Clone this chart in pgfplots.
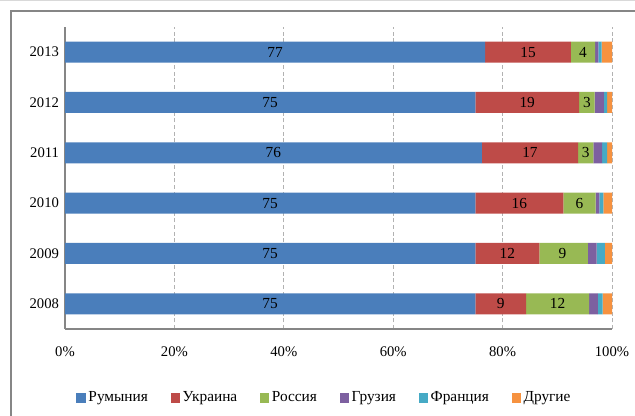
\documentclass[border=0pt]{standalone}
\usepackage{pgfplots}
\pgfplotsset{compat=1.18}
\usepackage{pgfplotstable}
\usepackage{fontspec}
\setmainfont{Liberation Serif}
\definecolor{cRom}{HTML}{4A7EBB}
\definecolor{cUkr}{HTML}{BE4B48}
\definecolor{cRus}{HTML}{98B954}
\definecolor{cGeo}{HTML}{7D60A0}
\definecolor{cFra}{HTML}{46AAC5}
\definecolor{cOth}{HTML}{F69240}
\definecolor{axgray}{HTML}{868686}
\pgfplotstableread{
y rom ukr rus geo fra oth
0 75.0 9.3 11.5 1.6 0.9 1.7
1 75.0 11.7 8.9 1.6 1.5 1.3
2 75.0 16.1 5.9 0.7 0.7 1.6
3 76.2 17.6 2.8 1.6 0.9 0.9
4 75.0 19.0 2.8 1.7 0.6 0.9
5 76.8 15.7 4.4 0.6 0.6 1.9
}\shares
\pgfplotstableread{
x y label
37.5 0 75
79.65 0 9
90.05 0 12
37.5 1 75
80.85 1 12
90.95 1 9
37.5 2 75
83.05 2 16
94.05 2 6
38.1 3 76
85.0 3 17
95.2 3 3
37.5 4 75
84.5 4 19
95.4 4 3
38.4 5 77
84.65 5 15
94.7 5 4
}\labels
\begin{document}
\begin{tikzpicture}[font=\fontsize{11pt}{13pt}\selectfont]
\path[use as bounding box] (0pt,0pt) rectangle (476.25pt,312pt);
\draw[axgray, line width=1pt] (8.25pt,0pt) -- (8.25pt,303.75pt) -- (476.25pt,303.75pt);
\draw[black!15, line width=0.6pt] (0pt,311.6pt) -- (476.25pt,311.6pt);
\begin{axis}[
  at={(48.75pt,65.25pt)}, anchor=south west,
  scale only axis, width=410.25pt, height=226.5pt,
  xbar stacked, bar width=15.75pt,
  xmin=0, xmax=100, ymin=-0.5, ymax=5.5,
  axis x line*=bottom, axis y line*=left,
  axis line style={axgray, line width=0.8pt},
  xtick={0,20,40,60,80,100},
  xticklabel={\pgfmathprintnumber{\tick}\%},
  xtick style={draw=none},
  xticklabel style={yshift=-10pt},
  xmajorgrids, grid style={black!30, densely dashed, line width=0.6pt},
  ytick={0,1,2,3,4,5},
  yticklabels={2008,2009,2010,2011,2012,2013},
  ytick style={draw=none},
  yticklabel style={xshift=-1pt},
  extra y ticks={-0.5,0.5,1.5,2.5,3.5,4.5,5.5},
  extra y tick labels={},
  extra y tick style={tick align=outside, major tick length=6pt, tick style={axgray, line width=0.8pt}, grid=none},
  /pgf/number format/assume math mode=true,
  legend style={at={(0.475,-0.228)}, anchor=center, draw=none, fill=none,
    legend columns=6, /tikz/every even column/.append style={column sep=15pt},
    font=\fontsize{11.5pt}{13pt}\selectfont},
  legend image code/.code={\fill[#1] (0pt,-3.5pt) rectangle (7pt,3.5pt);},
]
\addplot[fill=cRom, draw=none] table[x=rom, y=y] {\shares};
\addplot[fill=cUkr, draw=none] table[x=ukr, y=y] {\shares};
\addplot[fill=cRus, draw=none] table[x=rus, y=y] {\shares};
\addplot[fill=cGeo, draw=none] table[x=geo, y=y] {\shares};
\addplot[fill=cFra, draw=none] table[x=fra, y=y] {\shares};
\addplot[fill=cOth, draw=none] table[x=oth, y=y] {\shares};
\legend{Румыния, Украина, Россия, Грузия, Франция, Другие}
\end{axis}
\begin{axis}[
  at={(48.75pt,65.25pt)}, anchor=south west,
  scale only axis, width=410.25pt, height=226.5pt,
  xmin=0, xmax=100, ymin=-0.5, ymax=5.5,
  hide axis,
]
\addplot[only marks, mark=none, nodes near coords, point meta=explicit symbolic,
  every node near coord/.append style={anchor=center, font=\fontsize{11.5pt}{13pt}\selectfont}]
  table[x=x, y=y, meta=label] {\labels};
\end{axis}
\end{tikzpicture}
\end{document}
